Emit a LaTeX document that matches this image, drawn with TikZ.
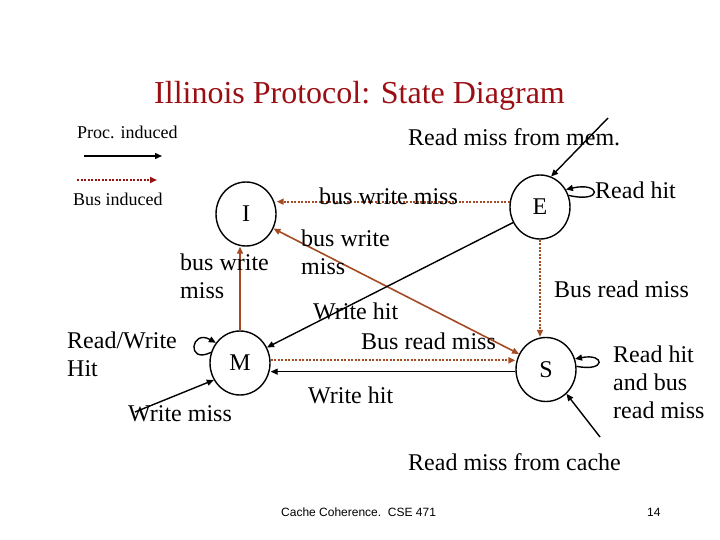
\documentclass[tikz,border=0pt]{standalone}
\usepackage{fontspec}
\setmainfont{Liberation Serif}
\setsansfont{Liberation Sans}
\usepackage{tikz}
\usetikzlibrary{arrows.meta}
\usetikzlibrary{shapes.geometric}
\usetikzlibrary{calc}
\definecolor{busbrown}{RGB}{165,75,35}
\definecolor{legendred}{RGB}{150,20,20}
\definecolor{titlered}{RGB}{155,15,20}
\tikzset{
>={Triangle[length=7pt,width=6pt]},
st/.style = {ellipse, draw, line width=1.4pt, minimum width=60pt,
             minimum height=64pt, inner sep=0pt,
             font=\fontsize{24}{28}\selectfont},
proc/.style = {draw, line width=1.4pt, ->},
busdot/.style = {draw=busbrown, line width=2pt,
                 dash pattern=on 2pt off 1.5pt, ->}, % bus induced
busline/.style = {draw=busbrown, line width=1.6pt, ->},
lbl/.style = {anchor=base west, inner sep=0pt,
              font=\fontsize{24}{28}\selectfont}
}
\newcommand{\stnode}[3]{\node[st] (#1) at (#2) {#3};}
\newcommand{\lbl}[3]{\node[lbl] (#1) at (#2) {#3};}

\begin{document}
\begin{tikzpicture}[x=1pt,y=-1pt]
        \fill[white] (0,0) rectangle (720,540);
        \useasboundingbox (0,0) rectangle (720,540);
        \node[font=\fontsize{32}{38}\selectfont, text=titlered, anchor=base] (title) at (359.5,104) {Illinois Protocol: State Diagram};
        % legend
        \node[font=\fontsize{18}{22}\selectfont, anchor=base west, inner sep=0pt] (proclbl) at (77,139) {Proc. induced};
        \node[font=\fontsize{18}{22}\selectfont, anchor=base west, inner sep=0pt] (buslbl) at (73,206) {Bus induced};
        \coordinate (procA) at (84,156);
        \coordinate (procB) at (162,156);
        \coordinate (busA) at (77,180);
        \coordinate (busB) at (157,180);
        \draw[proc] (procA) -- (procB);
        \draw[busdot, draw=legendred] (busA) -- (busB);
        % states
        \stnode{I}{246,214}{I};
        \stnode{E}{540,207}{E};
        \stnode{M}{240,363}{M};
        \stnode{S}{546,369.5}{S};
        \coordinate (memsrc) at (608,118);
        \coordinate (cachesrc) at (600,437);
        \coordinate (wmsrc) at (135,412);
        % transitions
        \draw[busdot] (E.170) -- (I.east |- E.170);
        \draw[busline, <->] (S.150) -- (I.-28);
        \draw[busline] (M.north) -- (M.north |- I.south);
        \draw[proc] (E.210) -- (M.30);
        \draw[busdot] (M.5) -- (S.west |- M.5);
        \draw[proc] (S.184) -- (M.east |- S.184);
        \draw[busdot] (E.south) -- (E.south |- S.north);
        \draw[proc] (memsrc) -- (E.70);
        \draw[proc] (cachesrc) -- (S.-50);
        \draw[proc] (wmsrc) -- (M.213);
        \draw[proc] (E.22) .. controls +(35,8) and +(35,-8) .. (E.34);
        \draw[proc] (S.6) .. controls +(30,6) and +(30,-6) .. (S.20);
        \draw[proc] (M.160) .. controls +(-25,12) and +(-25,-14) .. (M.140);
        % labels
        \lbl{lmem}{408,146}{Read miss from mem.};
        \lbl{lEI}{319,205}{bus write miss};
        \lbl{lEhit}{595,199}{Read hit};
        \lbl{lMIa}{180,270}{bus write};
        \lbl{lMIb}{180,298}{miss};
        \lbl{lSIa}{301,247}{bus write};
        \lbl{lSIb}{301,274}{miss};
        \lbl{lES}{554,297}{Bus read miss};
        \lbl{lEM}{313,319}{Write hit};
        \lbl{lMS}{361,349}{Bus read miss};
        \lbl{lSM}{308,403}{Write hit};
        \lbl{lMhita}{67,348}{Read/Write};
        \lbl{lMhitb}{67,376}{Hit};
        \lbl{lwm}{128,421}{Write miss};
        \lbl{lShita}{613,362}{Read hit};
        \lbl{lShitb}{613,390}{and bus};
        \lbl{lShitc}{613,418}{read miss};
        \lbl{lcache}{408,470}{Read miss from cache};
        \node[font=\sffamily\fontsize{12}{14}\selectfont, anchor=base west, inner sep=0pt] (foot) at (281,516) {Cache Coherence.\ \ CSE 471};
        \node[font=\sffamily\fontsize{12}{14}\selectfont, anchor=base west, inner sep=0pt] (page) at (647,516) {14};
\end{tikzpicture}
\end{document}
